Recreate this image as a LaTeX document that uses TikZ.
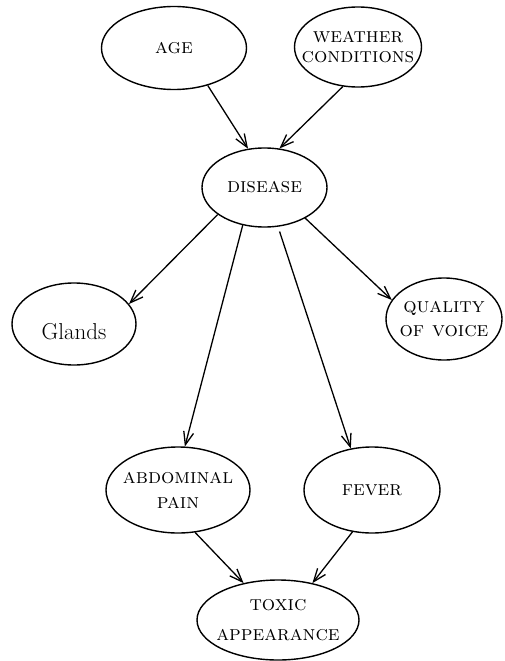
\documentclass[tikz,border=0pt]{standalone}
\usetikzlibrary{shapes.geometric,arrows.meta}

\begin{document}
\begin{tikzpicture}[x=1pt,y=-1pt]
    \tikzset{every node/.style={draw=black,line width=1.4pt,ellipse,inner xsep=-30pt,inner ysep=-20pt,align=center,font=\fontsize{21}{20}\selectfont\scshape}}
    \tikzset{edge/.style={line width=1.3pt}}
    \useasboundingbox (0,0) rectangle (504,661);

    \node[minimum width=145,minimum height=83] (age) at (174,48) {age};
    \node[minimum width=127,minimum height=80] (weather) at (358,47) {weather\\conditions};

    \node[minimum width=125,minimum height=79] (disease) at (264.5,187.5) {disease};

    \node[minimum width=124,minimum height=82,text height=32pt,font=\fontsize{23}{22}\selectfont] (glands) at (74,324) {Glands};
    \node[minimum width=116,minimum height=82] (voice) at (444,319) {quality\\[4pt]of voice};

    \node[minimum width=144,minimum height=86] (pain) at (178,490) {abdominal\\[5pt]pain};
    \node[minimum width=136,minimum height=86] (fever) at (372,490) {fever};

    \node[minimum width=162,minimum height=80] (toxic) at (278,620) {toxic\\[10pt]appearance};

    \begin{scope}[every path/.style={-{Straight Barb[length=13pt,width=10pt]}}]
       \draw[edge] (age.-48) -- (disease.113);
       \draw[edge] (weather.-111) -- (disease.69);

       \draw[edge] (disease.-150) -- (glands.20);
       \draw[edge] (disease.-37) -- (voice.160);
       \draw[edge] (disease.-120) -- (pain.81);
       \draw[edge,shorten <=5pt] (disease.-71) -- (fever.117);

       \draw[edge] (pain.-68) -- (toxic.133);
       \draw[edge] (fever.-115) -- (toxic.47);
    \end{scope}
\end{tikzpicture}
\end{document}
